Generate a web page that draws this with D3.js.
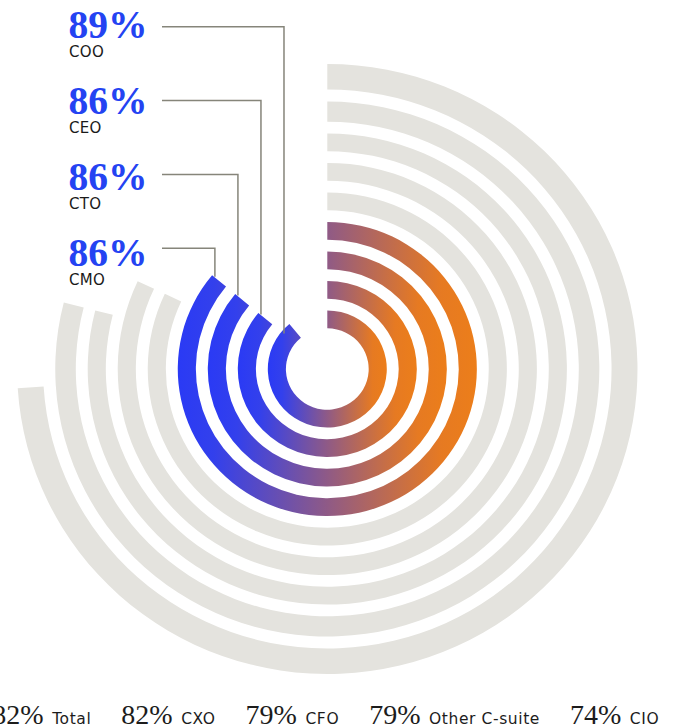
<!DOCTYPE html>
<html>
<head>
<meta charset="utf-8">
<script src="https://cdn.jsdelivr.net/npm/d3@7"></script>
<style>
  body { margin: 0; background: #fff; }
  svg { display: block; }
</style>
</head>
<body>
<div id="chart"></div>
<script>
// highlighted roles: inner rings with the gradient, labels on the left
const topRoles = ["COO", "CEO", "CTO", "CMO"];
const topShares = [89, 86, 86, 86];

// the rest: outer grey rings, listed along the bottom
const restRoles = ["Total", "CXO", "CFO", "Other C-suite", "CIO"];
const restShares = [82, 82, 79, 79, 74];

const drawRings = () => {
    const width = 673;
    const height = 728;
    const cx = 327.3, cy = 369;
    const stretchX = 1.017; // source image is a touch wider than tall

    const grey = "#e4e3de";
    const blue = "#2443f2";
    const leaderColor = "#86857a";

    // one object per ring, innermost first
    const rings = topRoles.map((role, i) => ({ role, share: topShares[i], top: true }))
        .concat(restRoles.map((role, i) => ({ role, share: restShares[i], top: false })));

    const angle = d3.scaleLinear().domain([0, 100]).range([0, 2 * Math.PI]);
    const ringInner = d3.scaleLinear().domain([0, 7]).range([40.7, 247.3]);

    rings.forEach((d, i) => {
        d.inner = i < 8 ? ringInner(i) : 279.5;
        d.outer = i < 7 ? d.inner + 17.8 : (i === 7 ? 267.5 : 305);
    });

    const arc = d3.arc()
        .innerRadius(d => d.inner)
        .outerRadius(d => d.outer)
        .startAngle(0)
        .endAngle(d => angle(d.share));

    const svg = d3.select("#chart")
        .append("svg")
        .attr("width", width)
        .attr("height", height)
        .attr("viewBox", `0 0 ${width} ${height}`);

    // gradient, blue on the left to orange on the right, per ring
    const grad = svg.append("defs")
        .append("linearGradient")
        .attr("id", "ringGrad")
        .attr("x1", 0).attr("y1", 0)
        .attr("x2", 1).attr("y2", 0);
    grad.selectAll("stop")
        .data([
            { o: 0, c: "#2a3af5" },
            { o: 0.12, c: "#3340ec" },
            { o: 0.5, c: "#8f5a86" },
            { o: 0.88, c: "#e67a22" },
            { o: 1, c: "#ec7e1a" }
        ])
        .join("stop")
            .attr("offset", d => d.o)
            .attr("stop-color", d => d.c);

    const chart = svg.append("g")
        .attr("transform", `translate(${cx},${cy}) scale(${stretchX},1)`);

    chart.selectAll(".ring")
        .data(rings)
        .join("path")
            .attr("class", "ring")
            .attr("d", arc)
            .attr("fill", d => d.top ? "url(#ringGrad)" : grey);

    // left labels + leader lines
    const numY = d3.scaleLinear().domain([0, 3]).range([38.3, 265.7]);
    const lineY = d3.scaleLinear().domain([0, 3]).range([26.7, 248.3]);
    const calloutAngle = angle(86) + 0.005; // where the leader lines meet the rings

    const labels = svg.append("g");
    const topRings = rings.filter(d => d.top);

    labels.selectAll(".num")
        .data(topRings)
        .join("text")
            .attr("class", "num")
            .attr("x", 68.5)
            .attr("y", (d, i) => numY(i))
            .attr("font-family", "'Liberation Serif', serif")
            .attr("font-weight", "bold")
            .attr("font-size", 39.5)
            .attr("fill", blue)
            .text(d => d.share + "%");

    labels.selectAll(".role")
        .data(topRings)
        .join("text")
            .attr("class", "role")
            .attr("x", 69)
            .attr("y", (d, i) => numY(i) + 18.8)
            .attr("font-family", "'DejaVu Sans', sans-serif")
            .attr("font-size", 15)
            .attr("letter-spacing", 0.3)
            .attr("fill", "#1a1a1a")
            .text(d => d.role);

    labels.selectAll(".leader")
        .data(topRings)
        .join("path")
            .attr("class", "leader")
            .attr("fill", "none")
            .attr("stroke", leaderColor)
            .attr("stroke-width", 1.5)
            .attr("d", (d, i) => {
                const r = d.outer - 3;
                const px = cx + stretchX * r * Math.sin(calloutAngle);
                const py = cy - r * Math.cos(calloutAngle);
                return `M162,${lineY(i)}H${px}V${py}`;
            });

    // bottom list, laid out left to right like running text
    const bottom = svg.append("g");
    let x = -7.7;
    const baseY = 724;
    rings.filter(d => !d.top).forEach(d => {
        const n = bottom.append("text")
            .attr("x", x)
            .attr("y", baseY)
            .attr("font-family", "'Liberation Serif', serif")
            .attr("font-size", 28)
            .attr("fill", "#1c1c1c")
            .text(d.share + "%");
        x += n.node().getComputedTextLength() + 8.5;
        const t = bottom.append("text")
            .attr("x", x)
            .attr("y", baseY)
            .attr("font-family", "'DejaVu Sans', sans-serif")
            .attr("font-size", 15.5)
            .attr("letter-spacing", 0.6)
            .attr("fill", "#1c1c1c")
            .text(d.role);
        x += t.node().getComputedTextLength() + 30;
    });
};

drawRings();
</script>
</body>
</html>
